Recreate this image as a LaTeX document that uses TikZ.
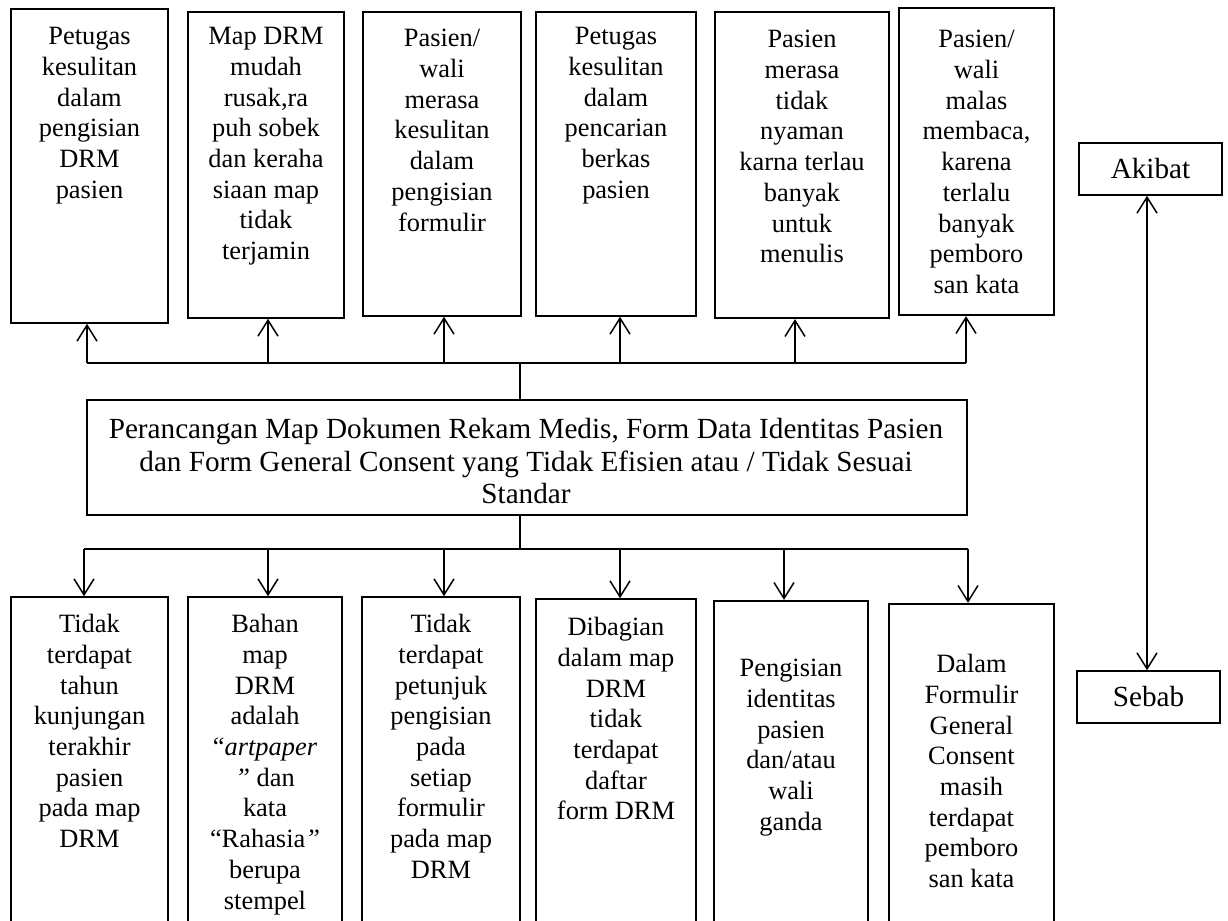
\documentclass[tikz,border=0pt]{standalone}
\usepackage{fontspec}
\setmainfont{Liberation Serif}
\usetikzlibrary{arrows.meta,fit}
\begin{document}
\begin{tikzpicture}[x=0.5pt,y=-0.5pt,
  box/.style={draw, line width=0.75pt, inner sep=0pt},
  boxb/.style={box, line width=1.1pt},
  txt/.style={align=center, inner sep=0pt, font=\fontsize{13.2}{15.35}\selectfont},
  maintxt/.style={align=center, inner sep=0pt, font=\fontsize{14.6}{16.2}\selectfont},
  bus/.style={line width=0.75pt},
  arr/.style={line width=0.75pt, -{Straight Barb[length=8pt,width=10pt]}},
  darr/.style={line width=0.75pt, {Straight Barb[length=8pt,width=10pt]}-{Straight Barb[length=8pt,width=10pt]}}
]
\path[use as bounding box] (0,0) rectangle (1228,921);
\clip (0,0) rectangle (1228,921);

% top boxes (akibat)
\node[box,  fit={(11,9) (168,323)}] (t1) {};
\node[box,  fit={(188,12) (344,318)}] (t2) {};
\node[box,  fit={(363,12) (521,316)}] (t3) {};
\node[box,  fit={(536,12) (696,316)}] (t4) {};
\node[boxb, fit={(715,12) (889,318)}] (t5) {};
\node[boxb, fit={(899,8) (1054,315)}] (t6) {};

\node[txt, anchor=north] (t1txt) at (89.5,27) {Petugas\\kesulitan\\dalam\\pengisian\\DRM\\pasien};
\node[txt, anchor=north] (t2txt) at (266,27) {Map DRM\\mudah\\rusak,ra\\puh sobek\\dan keraha\\siaan map\\tidak\\terjamin};
\node[txt, anchor=north] (t3txt) at (442,29) {Pasien/\\wali\\merasa\\kesulitan\\dalam\\pengisian\\formulir};
\node[txt, anchor=north] (t4txt) at (616,27) {Petugas\\kesulitan\\dalam\\pencarian\\berkas\\pasien};
\node[txt, anchor=north] (t5txt) at (802,30) {Pasien\\merasa\\tidak\\nyaman\\karna terlau\\banyak\\untuk\\menulis};
\node[txt, anchor=north] (t6txt) at (976.5,30) {Pasien/\\wali\\malas\\membaca,\\karena\\terlalu\\banyak\\pemboro\\san kata};

% main box
\node[box, fit={(87,400) (967,515)}] (main) {};
\node[maintxt, anchor=north] (maintext) at (526,418) {Perancangan Map Dokumen Rekam Medis, Form Data Identitas Pasien\\dan Form General Consent yang Tidak Efisien atau / Tidak Sesuai\\Standar};

% bottom boxes (sebab)
\node[box,  fit={(11,597) (168,945)}] (b1) {};
\node[box,  fit={(188,597) (342,945)}] (b2) {};
\node[box,  fit={(362,597) (520,945)}] (b3) {};
\node[box,  fit={(536,599) (696,945)}] (b4) {};
\node[boxb, fit={(714,601) (868,945)}] (b5) {};
\node[boxb, fit={(889,604) (1054,945)}] (b6) {};

\node[txt, anchor=north] (b1txt) at (89.5,614) {Tidak\\terdapat\\tahun\\kunjungan\\terakhir\\pasien\\pada map\\DRM};
\node[txt, anchor=north] (b2txt) at (265,614) {Bahan\\map\\DRM\\adalah\\“\textit{artpaper}\\\textit{”} dan\\kata\\“Rahasia\textit{”}\\berupa\\stempel};
\node[txt, anchor=north] (b3txt) at (441,614) {Tidak\\terdapat\\petunjuk\\pengisian\\pada\\setiap\\formulir\\pada map\\DRM};
\node[txt, anchor=north] (b4txt) at (616,617) {Dibagian\\dalam map\\DRM\\tidak\\terdapat\\daftar\\form DRM};
\node[txt, anchor=north] (b5txt) at (791,659) {Pengisian\\identitas\\pasien\\dan/atau\\wali\\ganda};
\node[txt, anchor=north] (b6txt) at (971.5,654) {Dalam\\Formulir\\General\\Consent\\masih\\terdapat\\pemboro\\san kata};

% legend
\node[box, fit={(1079,143) (1222,195)}] (akibat) {};
\node[maintxt] at (akibat.center) {Akibat};
\node[box, fit={(1077,671) (1220,723)}] (sebab) {};
\node[maintxt] at (sebab.center) {Sebab};
\coordinate (lx) at (1147,0);
\draw[darr] (akibat.south -| lx) -- (sebab.north -| lx);

% top bus
\coordinate (u1) at (87,363);
\coordinate (u2) at (268,363);
\coordinate (u3) at (444,363);
\coordinate (u4) at (620,363);
\coordinate (u5) at (795,363);
\coordinate (u6) at (966,363);
\coordinate (us) at (520,363);
\draw[bus] (u1) -- (u6);
\draw[bus] (us) -- (us |- main.north);
\foreach \i in {1,...,6} \draw[arr] (u\i) -- (u\i |- t\i.south);

% bottom bus
\coordinate (d1) at (84,549);
\coordinate (d2) at (268,549);
\coordinate (d3) at (444,549);
\coordinate (d4) at (620,549);
\coordinate (d5) at (784,549);
\coordinate (d6) at (968,549);
\coordinate (ds) at (520,549);
\draw[bus] (d1) -- (d6);
\draw[bus] (ds |- main.south) -- (ds);
\foreach \i in {1,...,6} \draw[arr] (d\i) -- (d\i |- b\i.north);
\end{tikzpicture}
\end{document}
